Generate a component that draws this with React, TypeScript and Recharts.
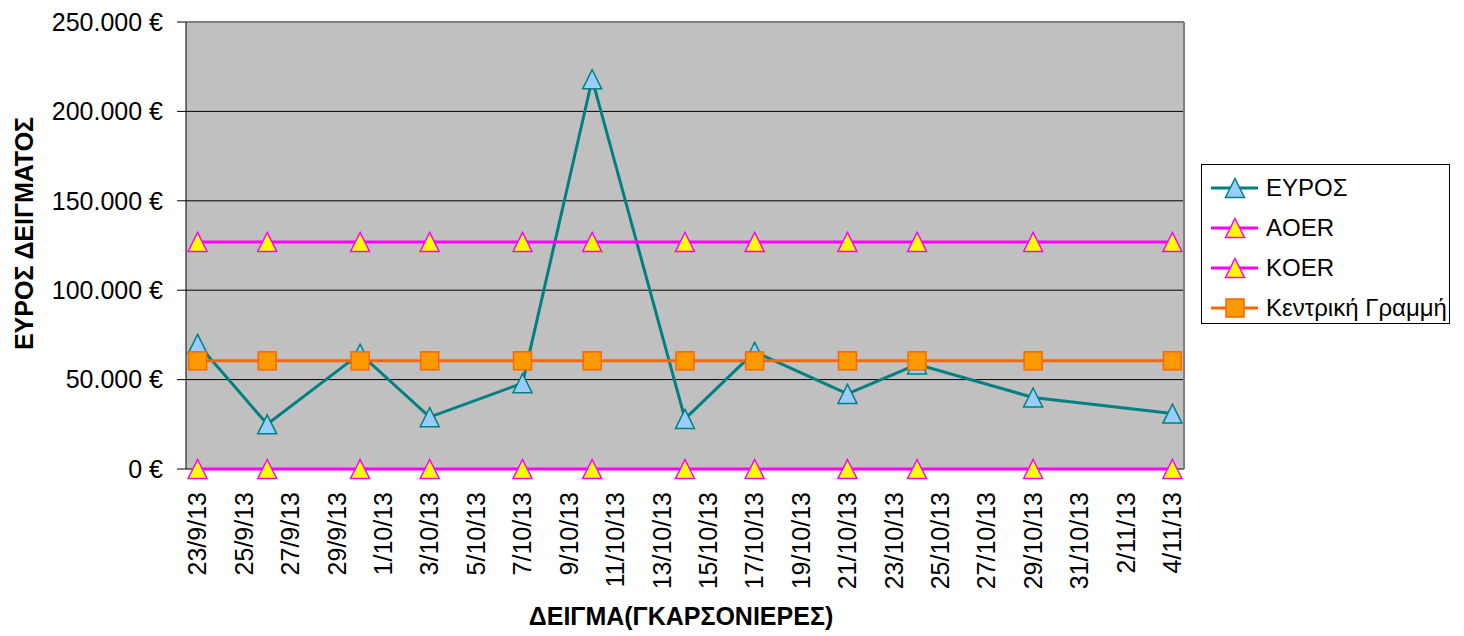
import React from 'react';
import {
  LineChart,
  Line,
  XAxis,
  YAxis,
  CartesianGrid,
  ReferenceLine,
  Legend,
  Label,
} from 'recharts';

// Sample dates (d/m/yy) and the range measured on each one
const sampleDates = [
  '23/9/13', '26/9/13', '30/9/13', '3/10/13', '7/10/13', '10/10/13',
  '14/10/13', '17/10/13', '21/10/13', '24/10/13', '29/10/13', '4/11/13',
];
const rangeValues = [70000, 25000, 64500, 29000, 48000, 218000, 28000, 65500, 42000, 58500, 40000, 31000];

// Control limits
const upperLimit = 127000;
const lowerLimit = 0;
const centerLine = 60500;

const dateTicks = [
  '23/9/13', '25/9/13', '27/9/13', '29/9/13', '1/10/13', '3/10/13', '5/10/13',
  '7/10/13', '9/10/13', '11/10/13', '13/10/13', '15/10/13', '17/10/13', '19/10/13',
  '21/10/13', '23/10/13', '25/10/13', '27/10/13', '29/10/13', '31/10/13', '2/11/13', '4/11/13',
];
const valueTicks = [0, 50000, 100000, 150000, 200000, 250000];

const FONT = 'Arial, "Liberation Sans", sans-serif';

// days since the first tick date
const toDay = (s: string) => {
  const [d, m, y] = s.split('/').map(Number);
  return Math.round((Date.UTC(2000 + y, m - 1, d) - Date.UTC(2013, 8, 23)) / 86400000);
};

const tickDays = dateTicks.map(toDay);
const lastDay = tickDays[tickDays.length - 1];
// Excel-style tick marks sit between the days
const boundaryDays = [-0.5, ...tickDays.map((d) => d + 1.5).filter((d) => d < lastDay), lastDay - 0.5, lastDay + 0.5];

const chartData = sampleDates.map((s, i) => ({
  day: toDay(s),
  range: rangeValues[i],
  ucl: upperLimit,
  lcl: lowerLimit,
  cl: centerLine,
}));

const formatEuro = (v: number) => (v === 0 ? '0 €' : `${v / 1000}.000 €`);

const Triangle = ({ cx, cy, fill, stroke, size = 19 }: any) => {
  if (cx == null || cy == null) return null;
  const h = size / 2;
  return (
    <polygon
      points={`${cx},${cy - h} ${cx + h},${cy + h} ${cx - h},${cy + h}`}
      fill={fill}
      stroke={stroke}
      strokeWidth={1.5}
    />
  );
};

const Square = ({ cx, cy, fill, stroke, size = 18 }: any) => {
  if (cx == null || cy == null) return null;
  return (
    <rect x={cx - size / 2} y={cy - size / 2} width={size} height={size} fill={fill} stroke={stroke} strokeWidth={1.5} />
  );
};

const series = [
  { key: 'range', name: 'ΕΥΡΟΣ', stroke: '#008080', fill: '#99CCFF', shape: 'triangle' },
  { key: 'ucl', name: 'AOER', stroke: '#FF00FF', fill: '#FFFF00', shape: 'triangle' },
  { key: 'lcl', name: 'KOER', stroke: '#FF00FF', fill: '#FFFF00', shape: 'triangle' },
  { key: 'cl', name: 'Κεντρική Γραμμή', stroke: '#FF6600', fill: '#FF9900', shape: 'square' },
];

const DateTick = ({ x, y, payload }: any) => {
  const idx = tickDays.indexOf(payload.value);
  const ty = y + 23;
  return (
    <text
      x={x}
      y={ty}
      dy="0.35em"
      transform={`rotate(-90 ${x} ${ty})`}
      textAnchor="end"
      fontSize={25}
      fontFamily={FONT}
      fill="#000"
    >
      {idx >= 0 ? dateTicks[idx] : ''}
    </text>
  );
};

const LegendBox = () => (
  <div
    style={{
      border: '1.5px solid #000',
      background: '#fff',
      width: 249,
      height: 160,
      boxSizing: 'border-box',
      paddingTop: 3,
      fontFamily: FONT,
      fontSize: 24,
      color: '#000',
    }}
  >
    {series.map((s) => (
      <div key={s.key} style={{ display: 'flex', alignItems: 'center', height: 40 }}>
        <svg width={64} height={40}>
          <line x1={9} y1={20} x2={56} y2={20} stroke={s.stroke} strokeWidth={3} />
          {s.shape === 'triangle' ? (
            <Triangle cx={33} cy={20} fill={s.fill} stroke={s.stroke} />
          ) : (
            <Square cx={33} cy={20} fill={s.fill} stroke={s.stroke} />
          )}
        </svg>
        <span style={{ whiteSpace: 'nowrap' }}>{s.name}</span>
      </div>
    ))}
  </div>
);

export default function App() {
  return (
    <LineChart
      width={1456}
      height={628}
      data={chartData}
      margin={{ top: 14, right: 280, left: 0, bottom: 0 }}
    >
      <CartesianGrid xAxisId="dates" vertical={false} stroke="#000" fill="#C0C0C0" fillOpacity={1} />
      {/* tick marks only, between the days */}
      <XAxis
        xAxisId="grid"
        dataKey="day"
        type="number"
        domain={[-0.5, lastDay + 0.5]}
        ticks={boundaryDays}
        height={0}
        tickSize={8}
        tick={() => <g />}
        tickLine={{ stroke: '#000' }}
        axisLine={{ stroke: '#000' }}
        interval={0}
        allowDataOverflow
      />
      <XAxis
        xAxisId="dates"
        dataKey="day"
        type="number"
        domain={[-0.5, lastDay + 0.5]}
        ticks={tickDays}
        interval={0}
        height={167}
        tickSize={0}
        tickMargin={0}
        tickLine={false}
        axisLine={false}
        tick={<DateTick />}
        allowDataOverflow
      >
        <Label
          content={({ viewBox }: any) => (
            <text
              x={viewBox.x + viewBox.width / 2 - 4}
              y={viewBox.y + viewBox.height - 11}
              textAnchor="middle"
              fontSize={25}
              fontWeight="bold"
              fontFamily={FONT}
              fill="#000"
            >
              ΔΕΙΓΜΑ(ΓΚΑΡΣΟΝΙΕΡΕΣ)
            </text>
          )}
        />
      </XAxis>
      <YAxis
        width={178}
        domain={[0, 250000]}
        ticks={valueTicks}
        interval={0}
        tickFormatter={formatEuro}
        tickSize={9}
        tickMargin={14}
        tick={{ fontSize: 25, fontFamily: FONT, fill: '#000' }}
        tickLine={{ stroke: '#000' }}
        axisLine={{ stroke: '#000' }}
      >
        <Label
          content={({ viewBox }: any) => {
            const x = viewBox.x + 25;
            const y = viewBox.y + viewBox.height / 2 - 12;
            return (
              <text
                x={x}
                y={y}
                transform={`rotate(-90 ${x} ${y})`}
                textAnchor="middle"
                fontSize={25}
                fontWeight="bold"
                fontFamily={FONT}
                fill="#000"
              >
                ΕΥΡΟΣ ΔΕΙΓΜΑΤΟΣ
              </text>
            );
          }}
        />
      </YAxis>
      <ReferenceLine y={250000} xAxisId="dates" stroke="#808080" strokeWidth={2} />
      <ReferenceLine x={lastDay + 0.5} xAxisId="dates" stroke="#808080" strokeWidth={2} />
      <Legend
        layout="vertical"
        align="center"
        verticalAlign="middle"
        content={() => <LegendBox />}
        wrapperStyle={{ left: 1193, top: 156, width: 249 }}
      />
      {series.map((s) => (
        <Line
          key={s.key}
          xAxisId="dates"
          dataKey={s.key}
          name={s.name}
          stroke={s.stroke}
          strokeWidth={3}
          isAnimationActive={false}
          dot={(p: any) =>
            s.shape === 'triangle' ? (
              <Triangle key={`${s.key}-${p.index}`} cx={p.cx} cy={p.cy} fill={s.fill} stroke={s.stroke} />
            ) : (
              <Square key={`${s.key}-${p.index}`} cx={p.cx} cy={p.cy} fill={s.fill} stroke={s.stroke} />
            )
          }
          activeDot={false}
        />
      ))}
    </LineChart>
  );
}
